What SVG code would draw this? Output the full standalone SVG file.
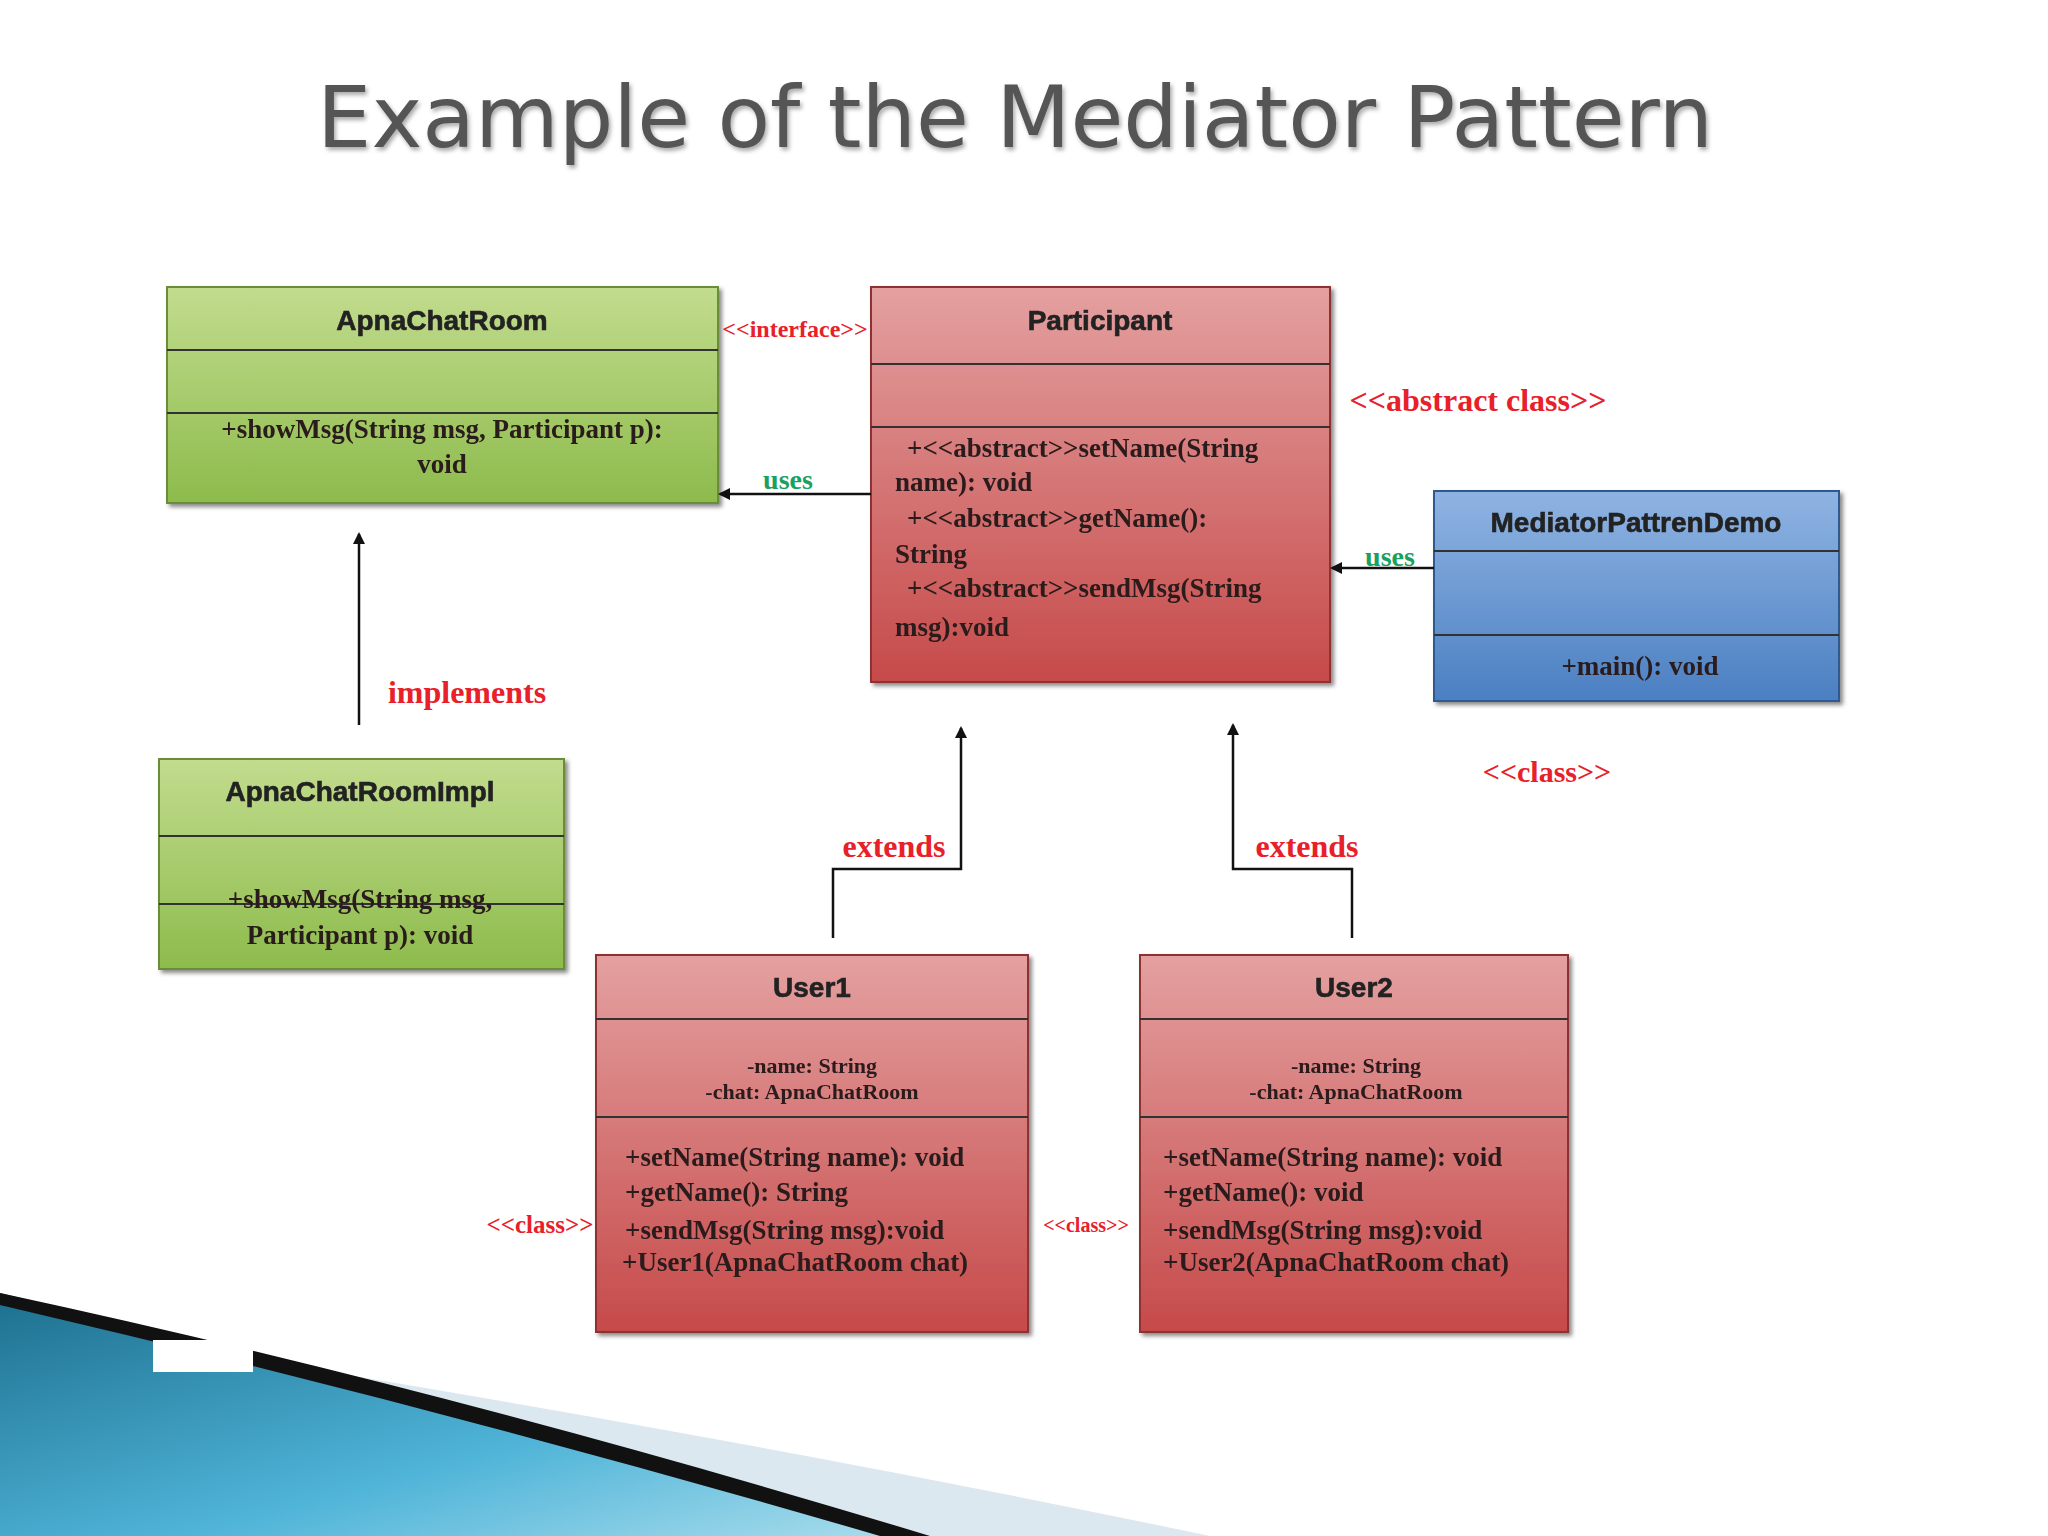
<svg xmlns="http://www.w3.org/2000/svg" width="2048" height="1536" viewBox="0 0 2048 1536">
<defs>
<linearGradient id="g" x1="0" y1="0" x2="0" y2="1"><stop offset="0" stop-color="#c2dc8e"/><stop offset="1" stop-color="#8dbb4c"/></linearGradient>
<linearGradient id="r" x1="0" y1="0" x2="0" y2="1"><stop offset="0" stop-color="#e4a0a0"/><stop offset="1" stop-color="#c64a4a"/></linearGradient>
<linearGradient id="b" x1="0" y1="0" x2="0" y2="1"><stop offset="0" stop-color="#8fb4e2"/><stop offset="1" stop-color="#4b7fc2"/></linearGradient>
<linearGradient id="sw" x1="0" y1="0" x2="1" y2="1"><stop offset="0" stop-color="#1d6f8e"/><stop offset="0.6" stop-color="#4fb4d8"/><stop offset="1" stop-color="#a8dcec"/></linearGradient>
<marker id="ah" markerWidth="12" markerHeight="12" refX="10" refY="6" orient="auto" markerUnits="userSpaceOnUse"><path d="M0,0 L12,6 L0,12 Z" fill="#111"/></marker>
<filter id="sh"><feDropShadow dx="3" dy="3" stdDeviation="2" flood-color="#888"/></filter>
</defs>
<style>
.h{font-family:"Liberation Sans",Arial,sans-serif;font-weight:bold;font-size:28px;fill:#222;text-anchor:middle;stroke:#222;stroke-width:0.6}
.t{font-family:"Liberation Serif","Times New Roman",serif;font-weight:bold;font-size:27px;fill:#2a1a1a}
.s{font-family:"Liberation Serif","Times New Roman",serif;font-size:22px;fill:#2a1a1a;font-weight:bold}
.lr{font-family:"Liberation Serif",serif;font-weight:bold;fill:#e8202a}
.lg{font-family:"Liberation Serif",serif;font-weight:bold;fill:#1aa060;font-size:28px}
.ln{stroke:#333;stroke-width:2;fill:none}
.c{stroke:#111;stroke-width:2.5;fill:none}
</style>
<rect width="2048" height="1536" fill="#fff"/>
<path d="M330,1372 Q800,1450 1210,1536 L900,1536 Q600,1450 330,1380 Z" fill="#dbe8ef"/>
<path d="M0,1293 Q450,1400 900,1536 L0,1536 Z" fill="url(#sw)"/>
<path d="M0,1293 Q450,1390 930,1536 L880,1536 Q450,1410 0,1305 Z" fill="#111"/>
<rect x="153" y="1340" width="100" height="32" fill="#fff"/>
<text x="1015" y="147" font-family="'DejaVu Sans',sans-serif" font-size="86" fill="#555" text-anchor="middle" style="filter:drop-shadow(2px 3px 2px #aaa)">Example of the Mediator Pattern</text>

<g id="ApnaChatRoom" filter="url(#sh)">
<rect x="167" y="287" width="551" height="216" fill="url(#g)" stroke="#6b8c3a" stroke-width="2"/>
<line class="ln" x1="167" y1="350" x2="718" y2="350"/><line class="ln" x1="167" y1="413" x2="718" y2="413"/>
<text class="h" x="442" y="330">ApnaChatRoom</text>
<text class="t" x="442" y="438" text-anchor="middle">+showMsg(String msg, Participant p):</text>
<text class="t" x="442" y="473" text-anchor="middle">void</text>
</g>
<g id="Participant" filter="url(#sh)">
<rect x="871" y="287" width="459" height="395" fill="url(#r)" stroke="#8c3030" stroke-width="2"/>
<line class="ln" x1="871" y1="364" x2="1330" y2="364"/><line class="ln" x1="871" y1="427" x2="1330" y2="427"/>
<text class="h" x="1100" y="330">Participant</text>
<text class="t" x="907" y="457">+&lt;&lt;abstract&gt;&gt;setName(String</text>
<text class="t" x="895" y="491">name): void</text>
<text class="t" x="907" y="527">+&lt;&lt;abstract&gt;&gt;getName():</text>
<text class="t" x="895" y="563">String</text>
<text class="t" x="907" y="597">+&lt;&lt;abstract&gt;&gt;sendMsg(String</text>
<text class="t" x="895" y="636">msg):void</text>
</g>
<g id="MediatorPattrenDemo" filter="url(#sh)">
<rect x="1434" y="491" width="405" height="210" fill="url(#b)" stroke="#2f5a8f" stroke-width="2"/>
<line class="ln" x1="1434" y1="551" x2="1839" y2="551"/><line class="ln" x1="1434" y1="635" x2="1839" y2="635"/>
<text class="h" x="1636" y="532">MediatorPattrenDemo</text>
<text class="t" x="1640" y="675" text-anchor="middle">+main(): void</text>
</g>
<g id="ApnaChatRoomImpl" filter="url(#sh)">
<rect x="159" y="759" width="405" height="210" fill="url(#g)" stroke="#6b8c3a" stroke-width="2"/>
<line class="ln" x1="159" y1="836" x2="564" y2="836"/><line class="ln" x1="159" y1="904" x2="564" y2="904"/>
<text class="h" x="360" y="801">ApnaChatRoomImpl</text>
<text class="t" x="360" y="908" text-anchor="middle">+showMsg(String msg,</text>
<text class="t" x="360" y="944" text-anchor="middle">Participant p): void</text>
</g>
<g id="User1" filter="url(#sh)">
<rect x="596" y="955" width="432" height="377" fill="url(#r)" stroke="#8c3030" stroke-width="2"/>
<line class="ln" x1="596" y1="1019" x2="1028" y2="1019"/><line class="ln" x1="596" y1="1117" x2="1028" y2="1117"/>
<text class="h" x="812" y="997">User1</text>
<text class="s" x="812" y="1073" text-anchor="middle">-name: String</text>
<text class="s" x="812" y="1099" text-anchor="middle">-chat: ApnaChatRoom</text>
<text class="t" x="625" y="1166">+setName(String name): void</text>
<text class="t" x="625" y="1201">+getName(): String</text>
<text class="t" x="625" y="1239">+sendMsg(String msg):void</text>
<text class="t" x="622" y="1271">+User1(ApnaChatRoom chat)</text>
</g>
<g id="User2" filter="url(#sh)">
<rect x="1140" y="955" width="428" height="377" fill="url(#r)" stroke="#8c3030" stroke-width="2"/>
<line class="ln" x1="1140" y1="1019" x2="1568" y2="1019"/><line class="ln" x1="1140" y1="1117" x2="1568" y2="1117"/>
<text class="h" x="1354" y="997">User2</text>
<text class="s" x="1356" y="1073" text-anchor="middle">-name: String</text>
<text class="s" x="1356" y="1099" text-anchor="middle">-chat: ApnaChatRoom</text>
<text class="t" x="1163" y="1166">+setName(String name): void</text>
<text class="t" x="1163" y="1201">+getName(): void</text>
<text class="t" x="1163" y="1239">+sendMsg(String msg):void</text>
<text class="t" x="1163" y="1271">+User2(ApnaChatRoom chat)</text>
</g>
<g id="connectors">
<line class="c" x1="871" y1="494" x2="720" y2="494" marker-end="url(#ah)"/>
<line class="c" x1="1434" y1="568" x2="1332" y2="568" marker-end="url(#ah)"/>
<line class="c" x1="359" y1="725" x2="359" y2="534" marker-end="url(#ah)"/>
<polyline class="c" points="833,938 833,869 961,869 961,728" marker-end="url(#ah)"/>
<polyline class="c" points="1352,938 1352,869 1233,869 1233,725" marker-end="url(#ah)"/>
</g>
<g id="labels">
<text class="lr" x="795" y="337" font-size="24" text-anchor="middle">&lt;&lt;interface&gt;&gt;</text>
<text class="lr" x="1478" y="411" font-size="32" text-anchor="middle">&lt;&lt;abstract class&gt;&gt;</text>
<text class="lr" x="1547" y="782" font-size="30" text-anchor="middle">&lt;&lt;class&gt;&gt;</text>
<text class="lr" x="540" y="1233" font-size="25" text-anchor="middle">&lt;&lt;class&gt;&gt;</text>
<text class="lr" x="1086" y="1232" font-size="20" text-anchor="middle">&lt;&lt;class&gt;&gt;</text>
<text class="lr" x="467" y="703" font-size="32" text-anchor="middle">implements</text>
<text class="lr" x="894" y="857" font-size="32" text-anchor="middle">extends</text>
<text class="lr" x="1307" y="857" font-size="32" text-anchor="middle">extends</text>
<text class="lg" x="788" y="489" text-anchor="middle">uses</text>
<text class="lg" x="1390" y="566" text-anchor="middle">uses</text>
</g>
</svg>
